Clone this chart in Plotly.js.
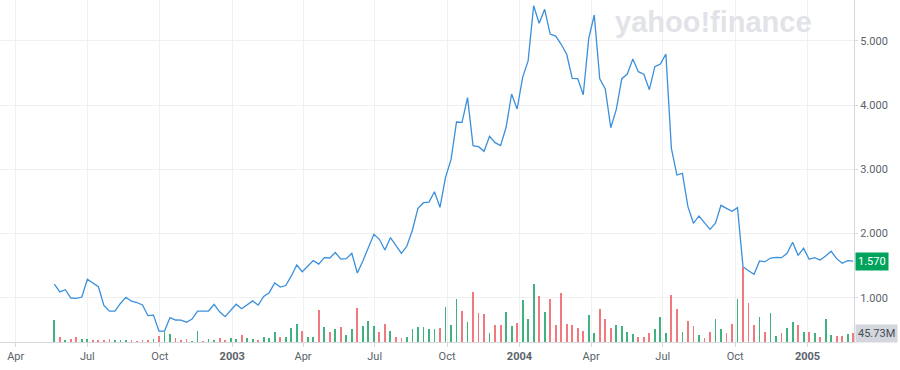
<!DOCTYPE html>
<html>
<head>
<meta charset="utf-8">
<script src="https://cdn.plot.ly/plotly-3.0.1.min.js"></script>
<style>html,body{margin:0;padding:0;background:#fff;}#chart{width:900px;height:370px;}</style>
</head>
<body>
<div id="chart"></div>
<script>
// Weekly data, first week starting 2002-05-20
const startWeek = '2002-05-20';
const closePrices = [
1.21,1.09,1.125,0.995,0.99,1.01,1.287,1.229,1.171,0.878,
0.79,0.79,0.91,1.005,0.946,0.925,0.886,0.72,0.728,0.478,
0.48,0.69,0.653,0.65,0.618,0.668,0.792,0.79,0.793,0.898,
0.78,0.704,0.80,0.898,0.829,0.886,0.95,0.884,1.02,1.078,
1.229,1.165,1.19,1.335,1.509,1.405,1.49,1.577,1.523,1.623,
1.618,1.704,1.60,1.608,1.691,1.385,1.572,1.779,1.988,1.91,
1.743,1.935,1.805,1.691,1.805,2.054,2.393,2.48,2.49,2.651,
2.408,2.875,3.15,3.737,3.73,4.116,3.368,3.352,3.28,3.514,
3.415,3.368,3.654,4.173,3.939,4.433,4.692,5.548,5.274,5.492,
5.107,5.076,4.947,4.791,4.417,4.412,4.162,5.04,5.403,4.411,
4.251,3.648,3.934,4.411,4.484,4.718,4.52,4.48,4.24,4.598,
4.64,4.796,3.327,2.911,2.937,2.418,2.159,2.273,2.168,2.065,
2.159,2.439,2.392,2.346,2.402,1.483,1.421,1.365,1.572,1.561,
1.618,1.629,1.623,1.692,1.863,1.66,1.769,1.598,1.623,1.587,
1.65,1.723,1.608,1.535,1.576,1.57
];
const volumesM = [
112,27,9,14,24,17,15,9,10,12,
15,9,9,9,9,7,9,12,15,30,
51,41,20,10,15,7,57,5,15,10,
19,9,22,17,36,19,15,10,27,19,
49,27,24,71,91,57,27,24,163,75,
52,66,78,36,66,174,81,107,81,52,
90,57,27,19,24,66,75,75,66,66,
71,178,86,220,157,103,254,146,141,44,
86,86,152,83,95,212,117,295,234,152,
217,86,249,91,86,70,57,137,47,169,
115,73,86,81,52,41,27,24,44,65,
129,44,237,166,51,107,83,36,22,51,
118,68,47,90,220,383,197,85,129,51,
147,30,47,70,103,85,49,49,47,27,
118,36,29,30,41,45.73
];
const tickDates = ['2002-04-01','2002-07-01','2002-10-01','2003-01-01','2003-04-01','2003-07-01','2003-10-01','2004-01-01','2004-04-01','2004-07-01','2004-10-01','2005-01-01'];
const tickLabels = ['Apr','Jul','Oct','<b>2003</b>','Apr','Jul','Oct','<b>2004</b>','Apr','Jul','Oct','<b>2005</b>'];
const priceTicks = [1,2,3,4,5];
const priceTickLabels = ['1.000','2.000','3.000','4.000','5.000'];
const lastPriceLabel = '1.570';
const lastVolumeLabel = '45.73M';

const dates = [];
const t0 = Date.parse(startWeek + 'T00:00:00Z');
for (let i = 0; i < closePrices.length; i++) {
  dates.push(new Date(t0 + i * 7 * 86400000).toISOString().slice(0, 10));
}
const barColors = closePrices.map((p, i) => (i === 0 || p >= closePrices[i - 1]) ? '#3fb27f' : '#f0797f');

const traces = [
  {
    x: dates, y: volumesM, type: 'bar', yaxis: 'y2',
    marker: {color: barColors},
    width: 2.3 * 86400000,
    hoverinfo: 'skip', showlegend: false
  },
  {
    x: dates, y: closePrices, type: 'scatter', mode: 'lines',
    line: {color: '#3b8fdb', width: 1.3},
    hoverinfo: 'skip', showlegend: false
  }
];

const layout = {
  width: 900, height: 370,
  margin: {l: 0, r: 46, t: 0, b: 28, pad: 0},
  paper_bgcolor: '#ffffff', plot_bgcolor: '#ffffff',
  font: {family: 'Roboto, "Open Sans", sans-serif', size: 11, color: '#5b636a'},
  bargap: 0,
  xaxis: {
    type: 'date', range: ['2002-03-12', '2005-03-01'],
    tickmode: 'array', tickvals: tickDates, ticktext: tickLabels,
    showgrid: true, gridcolor: '#f0f0f2', gridwidth: 1,
    showline: true, linecolor: '#d6d8dc', linewidth: 1,
    ticks: 'outside', ticklen: 4, tickcolor: '#d6d8dc',
    tickfont: {size: 11, color: '#5b636a'},
    zeroline: false, fixedrange: true
  },
  yaxis: {
    range: [0.31, 5.637], side: 'right',
    tickmode: 'array', tickvals: priceTicks, ticktext: priceTickLabels,
    showgrid: true, gridcolor: '#f0f0f2', gridwidth: 1,
    showline: true, linecolor: '#d6d8dc', linewidth: 1,
    ticks: 'outside', ticklen: 3, tickcolor: '#d6d8dc',
    tickfont: {size: 11, color: '#5b636a'},
    zeroline: false, fixedrange: true
  },
  yaxis2: {
    overlaying: 'y', range: [0, 1737], visible: false, fixedrange: true
  },
  annotations: [
    {
      xref: 'paper', yref: 'y', x: 1, y: 1.57, xanchor: 'left', yanchor: 'middle',
      text: lastPriceLabel, showarrow: false, bgcolor: '#00a35c',
      font: {color: '#ffffff', size: 11}, borderpad: 2, xshift: 1
    },
    {
      xref: 'paper', yref: 'y2', x: 1, y: 45.73, xanchor: 'left', yanchor: 'middle',
      text: lastVolumeLabel, showarrow: false, bgcolor: '#d3d6dc',
      font: {color: '#464e56', size: 11}, borderpad: 2, xshift: 1
    },
    {
      xref: 'paper', yref: 'paper', x: 713 / 854, y: 1 - 22 / 342, xanchor: 'center', yanchor: 'middle',
      text: '<b>yahoo!finance</b>', showarrow: false,
      font: {family: '"Liberation Sans", Arial, sans-serif', size: 29, color: '#e2e3e8'}
    }
  ]
};

Plotly.newPlot('chart', traces, layout, {staticPlot: true, displayModeBar: false});
</script>
</body>
</html>
